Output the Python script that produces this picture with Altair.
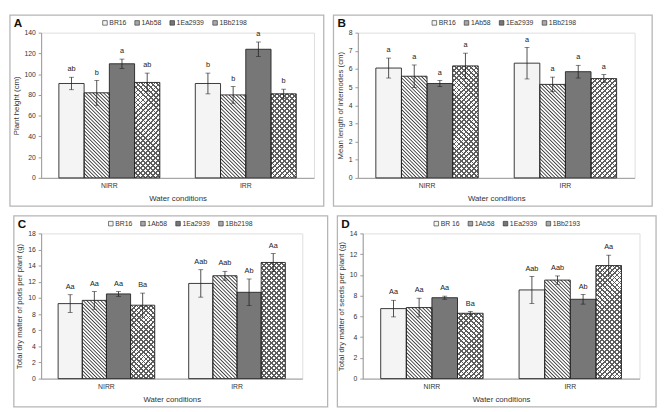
import math
import altair as alt
import pandas as pd

conditions = ["NIRR", "IRR"]

names_abc = ["BR16", "1Ab58", "1Ea2939", "1Bb2198"]
names_d = ["BR 16", "1Ab58", "1Ea2939", "1Bb2193"]

# Panel A - plant height (cm)
a_mean_nirr = [91, 82, 110, 92]
a_sd_nirr = [6, 12, 4.5, 9]
a_mean_irr = [91, 80, 124, 81]
a_sd_irr = [10, 8, 7, 4.5]
a_lab_nirr = ["ab", "b", "a", "ab"]
a_lab_irr = ["b", "b", "a", "b"]

# Panel B - mean length of internodes (cm)
b_mean_nirr = [6.05, 5.6, 5.2, 6.17]
b_sd_nirr = [0.55, 0.62, 0.17, 0.7]
b_mean_irr = [6.32, 5.15, 5.85, 5.47]
b_sd_irr = [0.87, 0.4, 0.35, 0.22]
b_lab_nirr = ["a", "a", "a", "a"]
b_lab_irr = ["a", "a", "a", "a"]

# Panel C - total dry matter of pods per plant (g)
c_mean_nirr = [9.3, 9.7, 10.5, 9.1]
c_sd_nirr = [1.1, 1.1, 0.3, 1.5]
c_mean_irr = [11.8, 12.75, 10.7, 14.4]
c_sd_irr = [1.7, 0.55, 1.65, 1.1]
c_lab_nirr = ["Aa", "Aa", "Aa", "Ba"]
c_lab_irr = ["Aab", "Aab", "Ab", "Aa"]

# Panel D - total dry matter of seeds per plant (g)
d_mean_nirr = [6.75, 6.85, 7.8, 6.3]
d_sd_nirr = [0.8, 0.9, 0.15, 0.17]
d_mean_irr = [8.55, 9.5, 7.65, 10.9]
d_sd_irr = [1.3, 0.4, 0.47, 1.0]
d_lab_nirr = ["Aa", "Aa", "Aa", "Ba"]
d_lab_irr = ["Aab", "Aab", "Ab", "Aa"]

fills = ["#f4f4f4", "#a6a6a6", "#777777", "#a9a9a9"]
INK = "#222222"
AXC = "#999999"
FONT = "Liberation Sans"
PAD_IN = 0.26


def stripe_gradient(w, h, period, frac, dark, light, direction, soft=False):
    """Diagonal stripe fill for a bar of w x h pixels (objectBoundingBox units)."""
    n = max(2, int(round((w + h) / (math.sqrt(2) * period))))
    stops = []
    for k in range(n):
        a = k / n
        b = (k + frac) / n
        c = (k + 1) / n
        if soft:
            m = (k + frac / 2) / n
            stops += [dict(offset=round(a, 5), color=light), dict(offset=round(m, 5), color=dark),
                      dict(offset=round(b, 5), color=light), dict(offset=round(c, 5), color=light)]
        else:
            stops += [dict(offset=round(a, 5), color=dark), dict(offset=round(b, 5), color=dark),
                      dict(offset=round(b, 5), color=light), dict(offset=round(c, 5), color=light)]
    t = (w + h) / (w * w + h * h)
    if direction == "back":  # lines like "\"
        x1, y1, x2, y2 = 0, 1, t * w, 1 - t * h
    else:  # lines like "/"
        x1, y1, x2, y2 = 0, 0, t * w, t * h
    return dict(gradient="linear", x1=x1, y1=y1, x2=round(x2, 5), y2=round(y2, 5), stops=stops)


def panel(letter, names, mn, sn, mi, si, ln, li, ytitle, ymax, ystep,
          L, W, R, T, H, B, legx):
    rows = []
    for cond, means, sds, labs in [("NIRR", mn, sn, ln), ("IRR", mi, si, li)]:
        for g, m, s, lab in zip(names, means, sds, labs):
            rows.append(dict(cond=cond, geno=g, mean=m, lo=m - s, hi=m + s, lab=lab))
    df = pd.DataFrame(rows)
    yscale = alt.Scale(domain=[0, ymax], nice=False)
    yax = alt.Axis(title=ytitle, values=list(range(0, ymax + 1, ystep)),
                   grid=False, tickSize=3, labelFontSize=7, titleFontSize=8,
                   titleFontWeight="normal", domainColor=AXC, tickColor=AXC,
                   labelColor="#333", titleColor="#333", labelPadding=3, titlePadding=4)
    base = alt.Chart(df).encode(
        x=alt.X("cond:N", sort=conditions,
                scale=alt.Scale(domain=conditions, paddingInner=PAD_IN, paddingOuter=PAD_IN / 2),
                axis=alt.Axis(title="Water conditions", labelAngle=0, ticks=False,
                              labelFontSize=7, titleFontSize=8, labelPadding=4,
                              titlePadding=6, titleFontWeight="normal",
                              domainColor=AXC, labelColor="#333", titleColor="#333")),
        xOffset=alt.XOffset("geno:N", sort=names,
                            scale=alt.Scale(domain=names, paddingInner=0, paddingOuter=0)),
    )
    bars = base.mark_bar(strokeWidth=0).encode(
        y=alt.Y("mean:Q", scale=yscale, axis=yax),
        fill=alt.Fill("geno:N", sort=names, scale=alt.Scale(domain=names, range=fills),
                      legend=alt.Legend(title=None, orient="none", direction="horizontal",
                                        legendX=legx, legendY=-T + 4, symbolType="square",
                                        symbolSize=22, symbolStrokeColor=INK,
                                        symbolStrokeWidth=0.6, labelFontSize=7,
                                        labelColor="#333", columnPadding=6,
                                        symbolOffset=0, labelOffset=1)),
    )
    # pattern overlays (style only: fills computed from each bar's pixel size)
    step = W / 2.0
    bw = step * (1 - PAD_IN) / 4.0
    overlays = []
    for cond, means in [("NIRR", mn), ("IRR", mi)]:
        for gi in (1, 3):
            g = names[gi]
            h = means[gi] / ymax * H
            if gi == 1:
                fills_list = [stripe_gradient(bw, h, 2.6, 0.7, "#3c3c3c", "#ffffff", "back", soft=True)]
            else:
                fills_list = [stripe_gradient(bw, h, 3.6, 0.36, "#5e5e5e", "#ffffff", "back"),
                              stripe_gradient(bw, h, 3.6, 0.36, "#5e5e5e", "rgba(255,255,255,0)", "fwd")]
            for fg in fills_list:
                overlays.append(
                    base.transform_filter((alt.datum.geno == g) & (alt.datum.cond == cond))
                    .mark_bar(fill=fg, strokeWidth=0)
                    .encode(y=alt.Y("mean:Q", scale=yscale, axis=yax))
                )
    outline = base.mark_bar(fillOpacity=0, stroke=INK, strokeWidth=0.9).encode(
        y=alt.Y("mean:Q", scale=yscale, axis=yax))
    rule = base.mark_rule(color=INK, strokeWidth=0.8).encode(
        y=alt.Y("lo:Q", scale=yscale, axis=yax), y2="hi:Q")
    tick_lo = base.mark_tick(color=INK, thickness=0.8, size=5).encode(
        y=alt.Y("lo:Q", scale=yscale, axis=yax))
    tick_hi = base.mark_tick(color=INK, thickness=0.8, size=5).encode(
        y=alt.Y("hi:Q", scale=yscale, axis=yax))
    txt = base.mark_text(baseline="bottom", dy=-4, fontSize=7.5, color=INK, font=FONT).encode(
        y=alt.Y("hi:Q", scale=yscale, axis=yax), text="lab:N")
    one = pd.DataFrame({"k": [0]})
    frame = alt.Chart(one).mark_rect(fillOpacity=0, stroke="#b5b5b5", strokeWidth=1.3).encode(
        x=alt.value(-L), x2=alt.value(W + R), y=alt.value(-T), y2=alt.value(H + B))
    let = alt.Chart(one).mark_text(text=letter, align="left", baseline="middle",
                                   fontSize=12, fontWeight="bold", color="#111", font=FONT).encode(
        x=alt.value(-L + 4), y=alt.value(-T + 8))
    return alt.layer(frame, bars, *overlays, outline, rule, tick_lo, tick_hi, txt, let).properties(
        width=W, height=H)


pA = panel("A", names_abc, a_mean_nirr, a_sd_nirr, a_mean_irr, a_sd_irr, a_lab_nirr, a_lab_irr,
           "Plant height (cm)", 140, 20, 32, 280, 10, 18, 149, 29, 62)
pB = panel("B", names_abc, b_mean_nirr, b_sd_nirr, b_mean_irr, b_sd_irr, b_lab_nirr, b_lab_irr,
           "Mean length of internodes (cm)", 8, 1, 25, 284, 18, 18, 149, 29, 75)
pC = panel("C", names_abc, c_mean_nirr, c_sd_nirr, c_mean_irr, c_sd_irr, c_lab_nirr, c_lab_irr,
           "Total dry matter of pods per plant (g)", 18, 2, 28, 268, 26, 18, 149, 29, 68)
pD = panel("D", names_d, d_mean_nirr, d_sd_nirr, d_mean_irr, d_sd_irr, d_lab_nirr, d_lab_irr,
           "Total dry matter of seeds per plant (g)", 14, 2, 26, 284, 17, 18, 149, 29, 72)

RES = dict(fill="independent", xOffset="independent", x="independent", y="independent")
row1 = alt.hconcat(pA, pB, spacing=6).resolve_scale(**RES)
row2 = alt.hconcat(pC, pD, spacing=6).resolve_scale(**RES)
chart = alt.vconcat(row1, row2, spacing=6).resolve_scale(**RES).properties(
    padding=0).configure_view(stroke=None).configure(font=FONT)

chart.save("out.html", embed_options={"renderer": "svg", "actions": False})
